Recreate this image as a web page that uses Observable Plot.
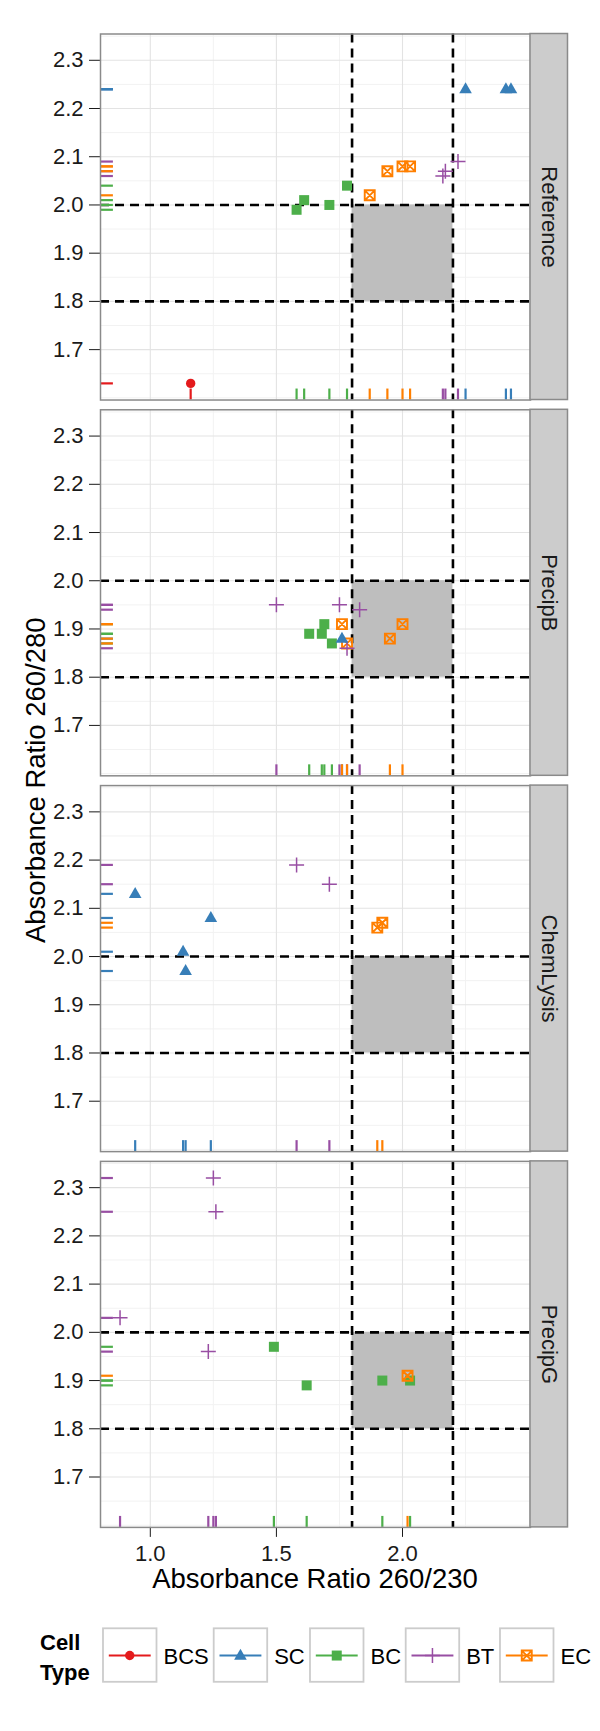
<!DOCTYPE html>
<html>
<head>
<meta charset="utf-8">
<script src="https://cdn.jsdelivr.net/npm/d3@7"></script>
<script src="https://cdn.jsdelivr.net/npm/@observablehq/plot@0.6"></script>
<style>
  body { margin: 0; background: #ffffff; }
  #chart { width: 600px; }
  #chart svg { display: block; }
</style>
</head>
<body>
<div id="chart"></div>
<script>
// ---------- data ----------
const methods = ["Reference", "PrecipB", "ChemLysis", "PrecipG"];
const cellTypes = ["BCS", "SC", "BC", "BT", "EC"];
const cellColors = ["#E41A1C", "#377EB8", "#4DAF4A", "#984EA3", "#FF7F00"];

const xTicks = [1.0, 1.5, 2.0];
const xMinor = [1.25, 1.75, 2.25];
const yTicks = [1.7, 1.8, 1.9, 2.0, 2.1, 2.2, 2.3];
const yMinor = [1.6, 1.65, 1.75, 1.85, 1.95, 2.05, 2.15, 2.25, 2.35];

const okRange230 = [1.8, 2.2];
const okRange280 = [1.8, 2.0];

const ptMethod = [
  "Reference","Reference","Reference","Reference","Reference","Reference","Reference","Reference",
  "Reference","Reference","Reference","Reference","Reference","Reference","Reference",
  "PrecipB","PrecipB","PrecipB","PrecipB","PrecipB","PrecipB","PrecipB","PrecipB","PrecipB",
  "PrecipB","PrecipB","PrecipB","PrecipB",
  "ChemLysis","ChemLysis","ChemLysis","ChemLysis","ChemLysis","ChemLysis","ChemLysis","ChemLysis",
  "PrecipG","PrecipG","PrecipG","PrecipG","PrecipG","PrecipG","PrecipG","PrecipG","PrecipG"
];
const ptCell = [
  "BCS","SC","SC","SC","BC","BC","BC","BC","BT","BT","BT","EC","EC","EC","EC",
  "SC","BC","BC","BC","BC","BT","BT","BT","BT","EC","EC","EC","EC",
  "SC","SC","SC","SC","BT","BT","EC","EC",
  "BC","BC","BC","BC","BT","BT","BT","BT","EC"
];
const ratio230 = [
  1.16, 2.25, 2.41, 2.43, 1.58, 1.61, 1.71, 1.78, 2.16, 2.17, 2.22, 1.87, 1.94, 2.00, 2.03,
  1.76, 1.63, 1.68, 1.69, 1.72, 1.50, 1.75, 1.83, 1.78, 1.76, 1.78, 1.95, 2.00,
  0.94, 1.13, 1.14, 1.24, 1.58, 1.71, 1.90, 1.92,
  1.49, 1.62, 1.92, 2.03, 1.25, 1.26, 0.88, 1.23, 2.02
];
const ratio280 = [
  1.63, 2.24, 2.24, 2.24, 1.99, 2.01, 2.00, 2.04, 2.06, 2.07, 2.09, 2.02, 2.07, 2.08, 2.08,
  1.88, 1.89, 1.89, 1.91, 1.87, 1.95, 1.95, 1.94, 1.86, 1.91, 1.87, 1.88, 1.91,
  2.13, 2.01, 1.97, 2.08, 2.19, 2.15, 2.06, 2.07,
  1.97, 1.89, 1.90, 1.90, 2.32, 2.25, 2.03, 1.96, 1.91
];

// ---------- derived ----------
const data = ptMethod.map((m, i) => ({method: m, cell: ptCell[i], r230: ratio230[i], r280: ratio280[i]}));
const xExt = d3.extent(ratio230), yExt = d3.extent(ratio280);
const xPad = (xExt[1] - xExt[0]) * 0.05, yPad = (yExt[1] - yExt[0]) * 0.05;
const xDom = [xExt[0] - xPad, xExt[1] + xPad];
const yDom = [yExt[0] - yPad, yExt[1] + yPad];

const W = 600, H = 1600, mL = 100, mR = 70, mT = 33.5, mB = 73.1;
const panelW = W - mL - mR;
const stripW = 37.5;
const stripX2 = xDom[1] + stripW * (xDom[1] - xDom[0]) / panelW;
const rugX = 0.03 * (xDom[1] - xDom[0]);
const rugY = 0.03 * (yDom[1] - yDom[0]);

const font = "'Liberation Sans', Arial, Helvetica, sans-serif";

// ggplot-like shapes
const symbols = {
  BCS: {draw(c) { c.moveTo(4.7, 0); c.arc(0, 0, 4.7, 0, 2 * Math.PI); }},
  SC:  {draw(c) { c.moveTo(0, -6.9); c.lineTo(6.3, 4.1); c.lineTo(-6.3, 4.1); c.closePath(); }},
  BC:  {draw(c) { c.rect(-5, -5, 10, 10); }},
  BT:  {draw(c) { c.moveTo(-7.5, 0); c.lineTo(7.5, 0); c.moveTo(0, -7.5); c.lineTo(0, 7.5); }},
  EC:  {draw(c) { c.rect(-5, -5, 10, 10); c.moveTo(-5, -5); c.lineTo(5, 5); c.moveTo(5, -5); c.lineTo(-5, 5); }}
};
const filled = {BCS: true, SC: true, BC: true, BT: false, EC: false};
const drawOrder = ["BC", "EC", "BT", "SC", "BCS"];

const pointMarks = drawOrder.map(t => {
  const sub = data.filter(d => d.cell === t);
  return filled[t]
    ? Plot.dot(sub, {x: "r230", y: "r280", fy: "method", symbol: symbols[t], r: 5, fill: "cell", stroke: "none"})
    : Plot.dot(sub, {x: "r230", y: "r280", fy: "method", symbol: symbols[t], r: 5, fill: "none", stroke: "cell", strokeWidth: t === "EC" ? 1.9 : 1.5});
});

const plot = Plot.plot({
  width: W, height: H,
  marginLeft: mL, marginRight: mR, marginTop: mT, marginBottom: mB,
  style: {fontFamily: font, fontSize: "22px", color: "#1a1a1a", background: "#ffffff", overflow: "visible"},
  x: {domain: xDom, ticks: xTicks, tickFormat: ".1f", tickSize: 10, tickPadding: 8, label: null},
  y: {domain: yDom, ticks: yTicks, tickFormat: ".1f", tickSize: 11, tickPadding: 6, label: null},
  fy: {domain: methods, axis: null, paddingInner: 0.026, paddingOuter: 0, round: false},
  color: {domain: cellTypes, range: cellColors},
  marks: [
    Plot.ruleY(yMinor, {stroke: "#F2F2F2", strokeWidth: 1}),
    Plot.ruleX(xMinor, {stroke: "#F2F2F2", strokeWidth: 1}),
    Plot.ruleY(yTicks, {stroke: "#E3E3E3", strokeWidth: 1.1}),
    Plot.ruleX(xTicks, {stroke: "#E3E3E3", strokeWidth: 1.1}),
    Plot.rect([{x1: okRange230[0], x2: okRange230[1], y1: okRange280[0], y2: okRange280[1]}],
      {x1: "x1", x2: "x2", y1: "y1", y2: "y2", fill: "#BEBEBE"}),
    Plot.ruleX(okRange230, {stroke: "#000", strokeWidth: 2.6, strokeDasharray: "9,6"}),
    Plot.ruleY(okRange280, {stroke: "#000", strokeWidth: 2.6, strokeDasharray: "9,6"}),
    Plot.ruleX(data, {x: "r230", fy: "method", y1: yDom[0], y2: yDom[0] + rugY, stroke: "cell", strokeWidth: 2.2}),
    Plot.ruleY(data, {y: "r280", fy: "method", x1: xDom[0], x2: xDom[0] + rugX, stroke: "cell", strokeWidth: 2.2}),
    ...pointMarks,
    Plot.frame({stroke: "#8a8a8a", strokeWidth: 1.5}),
    Plot.rect(methods, {fy: d => d, x1: xDom[1], x2: stripX2, y1: yDom[0], y2: yDom[1], fill: "#CCCCCC", stroke: "#8a8a8a", strokeWidth: 1.5}),
    Plot.text(methods, {fy: d => d, text: d => d, x: (xDom[1] + stripX2) / 2, y: (yDom[0] + yDom[1]) / 2,
      rotate: 90, fontSize: 22, fill: "#1a1a1a", fontFamily: font})
  ]
});

const chart = document.getElementById("chart");
chart.appendChild(plot);
const svgEl = plot.tagName.toLowerCase() === "svg" ? plot : plot.querySelector("svg");
const svg = d3.select(svgEl);

// axis titles
svg.append("text")
  .attr("x", mL + panelW / 2).attr("y", 1588)
  .attr("text-anchor", "middle")
  .attr("font-family", font).attr("font-size", 27.5).attr("fill", "#000")
  .text("Absorbance Ratio 260/230");
svg.append("text")
  .attr("transform", `translate(45,${(mT + (H - mB)) / 2}) rotate(-90)`)
  .attr("text-anchor", "middle")
  .attr("font-family", font).attr("font-size", 27.5).attr("fill", "#000")
  .text("Absorbance Ratio 260/280");

// ---------- legend (below the chart) ----------
const leg = d3.select(chart).append("svg")
  .attr("width", 600).attr("height", 131)
  .style("display", "block")
  .attr("font-family", font);

leg.append("text").attr("x", 40).attr("y", 49.5).attr("font-size", 22).attr("font-weight", "bold").attr("fill", "#000").text("Cell");
leg.append("text").attr("x", 40).attr("y", 79.5).attr("font-size", 22).attr("font-weight", "bold").attr("fill", "#000").text("Type");

const keyX = [103, 213.7, 310, 405.7, 500];
const keySize = 53.5, keyTop = 28.3;
cellTypes.forEach((t, i) => {
  const g = leg.append("g").attr("transform", `translate(${keyX[i]},${keyTop})`);
  g.append("rect").attr("x", 0).attr("y", 0).attr("width", keySize).attr("height", keySize)
    .attr("fill", "#fff").attr("stroke", "#CCCCCC").attr("stroke-width", 1.8);
  const cy = keySize / 2 + 0.5;
  g.append("line").attr("x1", 5.8).attr("x2", keySize - 5.8).attr("y1", cy).attr("y2", cy)
    .attr("stroke", cellColors[i]).attr("stroke-width", 2);
  const p = g.append("path").attr("d", d3.symbol(symbols[t])())
    .attr("transform", `translate(${keySize / 2},${cy})`);
  if (filled[t]) p.attr("fill", cellColors[i]);
  else p.attr("fill", "none").attr("stroke", cellColors[i]).attr("stroke-width", t === "EC" ? 1.9 : 1.5);
  leg.append("text").attr("x", keyX[i] + keySize + 7).attr("y", keyTop + cy + 8)
    .attr("font-size", 22).attr("fill", "#000").text(t);
});
</script>
</body>
</html>
